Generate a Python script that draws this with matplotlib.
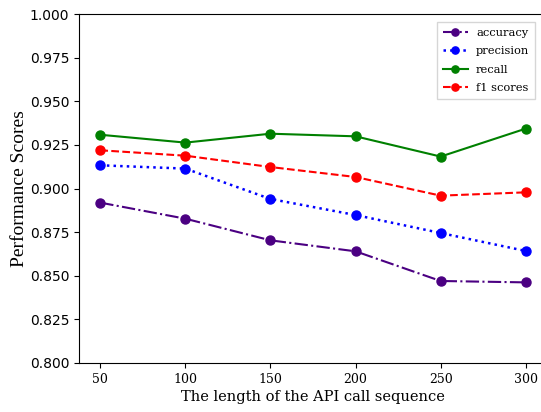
import matplotlib
matplotlib.use("Agg")
import matplotlib.pyplot as plt

lengths = [50, 100, 150, 200, 250, 300]
accuracy = [0.8919, 0.8827, 0.8703, 0.8640, 0.8470, 0.8462]
precision = [0.9133, 0.9114, 0.8940, 0.8848, 0.8745, 0.8642]
recall = [0.9308, 0.9263, 0.9314, 0.9299, 0.9183, 0.9343]
f1_scores = [0.9219, 0.9188, 0.9123, 0.9066, 0.8959, 0.8978]

fig = plt.figure(figsize=(5.41, 4.12), dpi=100)
# axes run a little past the right edge, as in the cropped reference
ax = fig.add_axes([79 / 541, (412 - 363) / 412, 468 / 541, 349 / 412])

ms = 6.5
ax.plot(lengths, accuracy, color="#4B0082", linestyle="-.", linewidth=1.5, marker="o", markersize=ms, label="accuracy")
ax.plot(lengths, precision, color="blue", linestyle=":", linewidth=1.8, marker="o", markersize=ms, label="precision")
ax.plot(lengths, recall, color="green", linestyle="-", linewidth=1.5, marker="o", markersize=ms, label="recall")
ax.plot(lengths, f1_scores, color="red", linestyle="--", linewidth=1.5, marker="o", markersize=ms, label="f1 scores")

ax.set_ylim(0.8, 1.0)
ax.set_xlim(37.5, 312.5)
ax.spines["right"].set_visible(False)
ax.set_xticks(lengths)
ax.set_yticks([0.8, 0.825, 0.85, 0.875, 0.9, 0.925, 0.95, 0.975, 1.0])
ax.set_yticklabels([f"{v:.3f}" for v in ax.get_yticks()], fontsize=10)
ax.set_xticklabels([str(v) for v in lengths], fontsize=9, family="DejaVu Serif")
ax.set_xlabel("The length of the API call sequence", fontsize=10.5, family="DejaVu Serif", labelpad=3)
ax.set_ylabel("Performance Scores", fontsize=14, family="Liberation Serif", labelpad=1)

ax.legend(loc="upper right", bbox_to_anchor=(0.974, 0.977), borderaxespad=0,
          prop={"family": "DejaVu Serif", "size": 8.2},
          fancybox=False, edgecolor="#cccccc", handlelength=2.2, handletextpad=0.7,
          labelspacing=0.75, borderpad=0.5, markerscale=0.8)

fig.savefig("out.png", dpi=100)
